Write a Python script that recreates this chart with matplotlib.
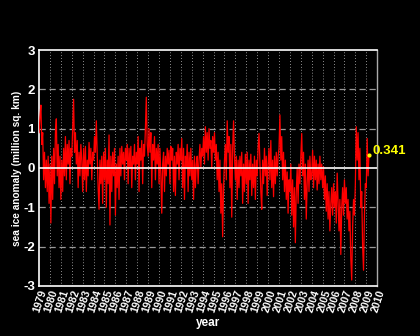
import matplotlib
matplotlib.use("Agg")
import matplotlib.pyplot as plt
import numpy as np

# monthly sea ice anomaly (million sq. km)
anom_1979_1988 = [
    0.9, 1.3, 1.6, 0.6, 0.9, -0.3, 0.4, -0.5, 0.2, -0.6, 0.3, -0.9,
    0.1, -1.4, 0.3, -0.8, 0.5, -0.4, 0.9, 1.25, -0.2, 0.6, -0.5, 0.3,
    -0.8, 0.2, -0.6, 0.5, -0.2, 0.8, -0.3, 0.6, 0.1, 0.7, -0.4, 0.5,
    0.3, 1.0, 1.75, 0.4, 0.9, 0.1, 0.7, -0.5, 0.4, -0.2, 0.6, 0.2,
    -0.6, 0.5, -0.3, 0.55, -0.6, 0.2, -0.2, 0.65, 0.1, 0.5, -0.3, 0.4,
    0.2, 0.8, 0.4, 1.2, 0.3, -0.5, -1.05, 0.2, -0.4, 0.3, -0.9, 0.4,
    -0.3, 0.5, -1.0, 0.2, -0.4, 0.84, -1.45, 0.3, -0.6, 0.4, -0.2, 0.5,
    -1.2, 0.1, -0.5, 0.3, -0.8, 0.5, -0.2, 0.55, 0.1, 0.4, -0.3, 0.5,
    0.2, 0.6, -0.4, 0.5, 0.0, 0.55, -0.5, 0.3, 0.1, 0.6, -0.3, 0.4,
    0.1, 0.8, -0.6, 0.5, 0.2, 0.7, -0.4, 0.6, 0.3, 1.0, 1.8, 0.6,
]
anom_1989_1998 = [
    0.3, 1.0, 0.4, 0.9, -0.5, 0.6, 0.2, 0.8, -0.3, 0.5, 0.1, 0.6,
    -0.4, 0.5, -0.2, -1.15, 0.1, 0.4, -0.6, 0.3, -0.2, 0.5, 0.1, 0.45,
    -0.4, 0.55, 0.2, 0.5, -0.6, 0.3, -0.7, 0.4, 0.1, 0.6, -0.3, 0.5,
    0.2, 0.75, -0.5, 0.5, -0.8, 0.3, 0.0, 0.6, -0.6, 0.4, -0.2, 0.5,
    -0.3, 0.2, -0.8, 0.3, -0.5, 0.1, 0.3, -0.4, 0.2, 0.6, 0.0, 0.5,
    0.3, 0.8, 0.1, 1.05, 0.4, 0.9, 0.2, 1.0, 0.5, 0.7, 0.0, 0.8,
    0.4, 0.9, 0.2, 0.6, -0.3, 0.4, -0.6, 0.2, -1.15, -0.4, -1.75, -0.5,
    0.2, 0.6, -0.3, 1.2, 0.4, 0.8, -0.5, 0.6, -1.25, 0.5, 1.2, 0.3,
    -0.3, 0.3, -0.8, 0.2, -0.5, 0.3, -0.2, 0.4, -0.9, 0.1, -0.6, 0.35,
    -0.4, 0.4, -0.9, 0.2, -0.3, 0.35, -0.7, 0.1, -0.5, 0.3, -0.8, 0.2,
]
anom_1999_2009 = [
    -0.2, 0.5, 0.88, 0.1, -0.6, -1.05, 0.2, -0.4, 0.5, -0.2, 0.3, -0.7,
    0.1, 0.5, -0.3, 0.7, -0.5, 0.2, -0.73, 0.3, -0.4, 0.4, -0.2, 0.3,
    0.5, 1.35, 0.2, 0.8, -0.3, 0.4, -0.6, 0.2, -0.8, -0.1, -1.15, -0.3,
    -0.6, 0.1, -1.2, -0.3, -1.5, -0.5, -1.9, -0.6, 0.0, -0.9, 0.1, -0.4,
    0.3, 0.88, -0.2, 0.4, -0.8, 0.1, -1.3, -0.4, 0.2, -0.6, 0.3, -0.3,
    -0.2, 0.45, -0.5, 0.3, -0.3, 0.2, -0.56, 0.1, -0.4, 0.3, -0.3, 0.1,
    -0.5, 0.03, -0.8, -0.2, -1.1, -0.4, -1.3, -0.6, -1.6, -0.9, -0.5, -1.2,
    -0.4, -1.0, -0.6, -1.4, -0.13, -0.9, -1.6, -0.8, -2.2, -1.0, -0.5, -1.2,
    -0.3, -0.9, -0.5, -1.3, -0.8, -1.6, -1.1, -2.3, -2.85, -1.5, -0.8, -1.2,
    -0.4, 1.05, 0.2, 0.9, -0.3, 0.5, -1.0, -0.6, -2.0, -2.6, -1.2, -0.4,
    -0.5, 0.75, -0.2, 0.341,
]
start_year = 1979
latest_value = 0.341
year_ticks = list(range(1979, 2011))
y_ticks = [-3, -2, -1, 0, 1, 2, 3]

anom = np.array(anom_1979_1988 + anom_1989_1998 + anom_1999_2009)
t = start_year + np.arange(len(anom)) / 12.0

plt.rcParams['font.family'] = ['Liberation Sans', 'DejaVu Sans']

fig = plt.figure(figsize=(4.2, 3.36), dpi=100, facecolor='black')
ax = fig.add_axes([0.093, 0.149, 0.805, 0.702], facecolor='black')

# grid
for yr in year_ticks[1:-1]:
    ax.axvline(yr, color='#bbbbbb', lw=0.6, ls=(0, (1, 2.5)), zorder=1)
for yv in [-2, -1, 1, 2]:
    ax.axhline(yv, color='#999999', lw=0.9, ls=(0, (5, 3)), zorder=1)

ax.plot(t, anom, color='red', lw=0.9, zorder=3)
ax.axhline(0, color='white', lw=1.2, zorder=4)

ax.plot([t[-1]], [latest_value], marker='o', ms=2, color='yellow', zorder=5)
ax.text(t[-1] + 0.3, latest_value + 0.1, '%.3f' % latest_value, color='yellow',
        fontsize=9.5, fontweight='bold', va='center', ha='left', clip_on=False)

ax.set_xlim(1979, 2010)
ax.set_ylim(-3, 3)
ax.set_xticks(year_ticks)
ax.set_xticklabels([str(y) for y in year_ticks], rotation=72, fontsize=7.5,
                   fontweight='bold', color='white', ha='right',
                   rotation_mode='anchor')
ax.set_yticks(y_ticks)
ax.set_yticklabels([str(y) for y in y_ticks], fontsize=9.5, fontweight='bold',
                   color='white')
ax.tick_params(length=0, pad=3)
ax.tick_params(axis='x', pad=2)

for side in ['top', 'bottom', 'left']:
    ax.spines[side].set_color('white')
    ax.spines[side].set_linewidth(1.2)
ax.spines['right'].set_color('#aaaaaa')
ax.spines['right'].set_linewidth(1.0)

ax.set_xlabel('year', color='white', fontsize=8.5, fontweight='bold', labelpad=2)
ax.set_ylabel('sea ice anomaly (million sq. km)', color='white', fontsize=7.3,
              fontweight='bold', labelpad=1)

fig.savefig('out.png', dpi=100, facecolor='black')
